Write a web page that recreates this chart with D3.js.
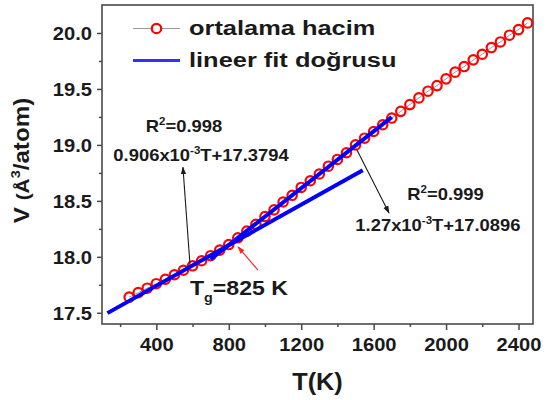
<!DOCTYPE html>
<html><head><meta charset="utf-8">
<script src="https://cdn.jsdelivr.net/npm/d3@7"></script>
<style>
html,body{margin:0;padding:0;background:#fff;}
svg{display:block;}
text{font-family:"Liberation Sans",Arial,sans-serif;font-weight:bold;fill:#1a1a1a;}
</style></head>
<body>
<svg id="c" width="549" height="400"></svg>
<script>
// ---- data ----
const temps = [250,300,350,400,450,500,550,600,650,700,750,800,850,900,950,1000,1050,1100,1150,1200,1250,1300,1350,1400,1450,1500,1550,1600,1650,1700,1750,1800,1850,1900,1950,2000,2050,2100,2150,2200,2250,2300,2350,2400,2450];
const volumes = [17.64,17.68,17.72,17.76,17.80,17.84,17.88,17.92,17.965,18.01,18.06,18.11,18.17,18.23,18.29,18.36,18.42,18.49,18.55,18.62,18.68,18.74,18.81,18.87,18.93,19.00,19.06,19.12,19.18,19.24,19.30,19.36,19.42,19.48,19.53,19.59,19.65,19.70,19.76,19.81,19.87,19.92,19.98,20.03,20.09];
const fitSlopes = [0.906e-3, 1.27e-3];
const fitIntercepts = [17.3794, 17.0896];
const fitRanges = [[130, 1540], [700, 1700]];
const xTicks = [400,800,1200,1600,2000,2400];
const xMinor = [200,600,1000,1400,1800,2200];
const yTicks = [17.5,18.0,18.5,19.0,19.5,20.0];
const yMinor = [17.75,18.25,18.75,19.25,19.75];
const legendLabels = ["ortalama hacim","lineer fit doğrusu"];

// ---- layout ----
const svg = d3.select("#c");
const L = 102, R = 533, TOP = 5, B = 324;
const x = d3.scaleLinear().domain([100, 2480]).range([L, R]);
const y = d3.scaleLinear().domain([17.4, 20.25]).range([B, TOP]);
const frameColor = "#4a4a4a";

// minor ticks
svg.append("g").attr("transform",`translate(0,${B})`)
  .call(d3.axisBottom(x).tickValues(xMinor).tickSize(3).tickSizeOuter(0).tickFormat(""))
  .call(g=>g.select(".domain").remove())
  .call(g=>g.selectAll("line").attr("stroke",frameColor).attr("stroke-width",1.5));
svg.append("g").attr("transform",`translate(${L},0)`)
  .call(d3.axisLeft(y).tickValues(yMinor).tickSize(3).tickSizeOuter(0).tickFormat(""))
  .call(g=>g.select(".domain").remove())
  .call(g=>g.selectAll("line").attr("stroke",frameColor).attr("stroke-width",1.5));

// major axes
const xa = svg.append("g").attr("transform",`translate(0,${B})`)
  .call(d3.axisBottom(x).tickValues(xTicks).tickSize(6).tickSizeOuter(0).tickFormat(d3.format("d")));
xa.select(".domain").remove();
xa.selectAll("line").attr("stroke",frameColor).attr("stroke-width",1.5);
xa.selectAll("text").attr("y",0).attr("dy",0)
  .attr("transform","translate(0,27) scale(1.12,1)")
  .style("font-size","18px").attr("fill","#1a1a1a").attr("font-family",null);

const ya = svg.append("g").attr("transform",`translate(${L},0)`)
  .call(d3.axisLeft(y).tickValues(yTicks).tickSize(5).tickSizeOuter(0).tickFormat(d3.format(".1f")));
ya.select(".domain").remove();
ya.selectAll("line").attr("stroke",frameColor).attr("stroke-width",1.5);
ya.selectAll("text").attr("x",0).attr("dy",0)
  .attr("transform","translate(-10,6.5) scale(1.12,1)")
  .style("font-size","18px").attr("fill","#1a1a1a").attr("font-family",null);

// frame
svg.append("rect").attr("x",L).attr("y",TOP).attr("width",R-L).attr("height",B-TOP)
  .attr("fill","none").attr("stroke",frameColor).attr("stroke-width",1.6);

// axis titles
svg.append("text").attr("transform",`translate(${(L+R)/2},390) scale(1.1,1)`)
  .attr("text-anchor","middle").style("font-size","23px").text("T(K)");
const yt = svg.append("text").attr("transform",`translate(29,${(TOP+B)/2-4}) rotate(-90) scale(1.1,1)`)
  .attr("text-anchor","middle").style("font-size","22px");
yt.append("tspan").text("V ");
yt.append("tspan").style("font-size","19px").text("(Å");
yt.append("tspan").style("font-size","13px").attr("dy",-9).text("3");
yt.append("tspan").attr("dy",9).text("/atom)");

// data series
const pts = temps.map((t,i)=>[t, volumes[i]]);
const plot = svg.append("g");
plot.append("path").datum(pts)
  .attr("d", d3.line().x(d=>x(d[0])).y(d=>y(d[1])))
  .attr("fill","none").attr("stroke","#999").attr("stroke-width",1);
plot.selectAll("circle").data(pts).join("circle")
  .attr("cx",d=>x(d[0])).attr("cy",d=>y(d[1])).attr("r",4.7)
  .attr("fill","none").attr("stroke","#ff0000").attr("stroke-width",2.2);

// fit lines
fitRanges.forEach((rg,i)=>{
  const seg = rg.map(t=>[t, fitSlopes[i]*t + fitIntercepts[i]]);
  plot.append("path").datum(seg)
    .attr("d", d3.line().x(d=>x(d[0])).y(d=>y(d[1])))
    .attr("fill","none").attr("stroke","#0000ff").attr("stroke-width",4);
});

// arrows
const defs = svg.append("defs");
function marker(id,color){
  defs.append("marker").attr("id",id).attr("viewBox","0 0 10 10").attr("refX",9).attr("refY",5)
    .attr("markerWidth",7).attr("markerHeight",7).attr("orient","auto")
    .append("path").attr("d","M0,1.5 L10,5 L0,8.5 Z").attr("fill",color);
}
marker("ab","#1a1a1a"); marker("ar","#ff2020");
function arrow(t1,v1,t2,v2,color,id){
  svg.append("line").attr("x1",x(t1)).attr("y1",y(v1)).attr("x2",x(t2)).attr("y2",y(v2))
    .attr("stroke",color).attr("stroke-width",1.1).attr("marker-end",`url(#${id})`);
}
arrow(586,17.927,547,18.80,"#1a1a1a","ab");
arrow(1508,18.954,1685,18.392,"#1a1a1a","ab");
arrow(961,17.882,851,18.09,"#ff2020","ar");

// annotations
function annot(t,v,parts,size,anchor){
  const tx = svg.append("text").attr("transform",`translate(${x(t)},${y(v)}) scale(1.15,1)`)
    .attr("text-anchor",anchor||"middle").style("font-size",size+"px");
  parts.forEach(p=>{
    const s = tx.append("tspan").text(p.t);
    if(p.s) s.style("font-size",p.s+"px");
    if(p.dy) s.attr("dy",p.dy);
  });
}
annot(553,19.118,[{t:"R"},{t:"2",s:10,dy:-7},{t:"=0.998",dy:7}],16);
annot(647,18.856,[{t:"0.906x10"},{t:"-3",s:10,dy:-7},{t:"T+17.3794",dy:7}],16);
annot(1997,18.508,[{t:"R"},{t:"2",s:10,dy:-7},{t:"=0.999",dy:7}],16);
annot(1955,18.231,[{t:"1.27x10"},{t:"-3",s:10,dy:-7},{t:"T+17.0896",dy:7}],16);
svg.append("text").attr("transform",`translate(${x(586)},${y(17.659)}) scale(1.1,1)`)
  .style("font-size","21px")
  .call(t=>{t.append("tspan").text("T");
    t.append("tspan").style("font-size","13px").attr("dy",7).text("g");
    t.append("tspan").attr("dy",-7).text("=825 K");});

// legend
const lg = svg.append("g");
lg.append("line").attr("x1",133).attr("x2",180).attr("y1",28.5).attr("y2",28.5)
  .attr("stroke","#999").attr("stroke-width",1);
lg.append("circle").attr("cx",156.5).attr("cy",28.5).attr("r",4.7)
  .attr("fill","#fff").attr("stroke","#ff0000").attr("stroke-width",2.2);
lg.append("line").attr("x1",133).attr("x2",180).attr("y1",60.5).attr("y2",60.5)
  .attr("stroke","#3030ff").attr("stroke-width",3);
legendLabels.forEach((s,i)=>{
  lg.append("text").attr("transform",`translate(189,${35+i*32}) scale(1.24,1)`)
    .style("font-size","20.5px").text(s);
});
</script>
</body></html>
